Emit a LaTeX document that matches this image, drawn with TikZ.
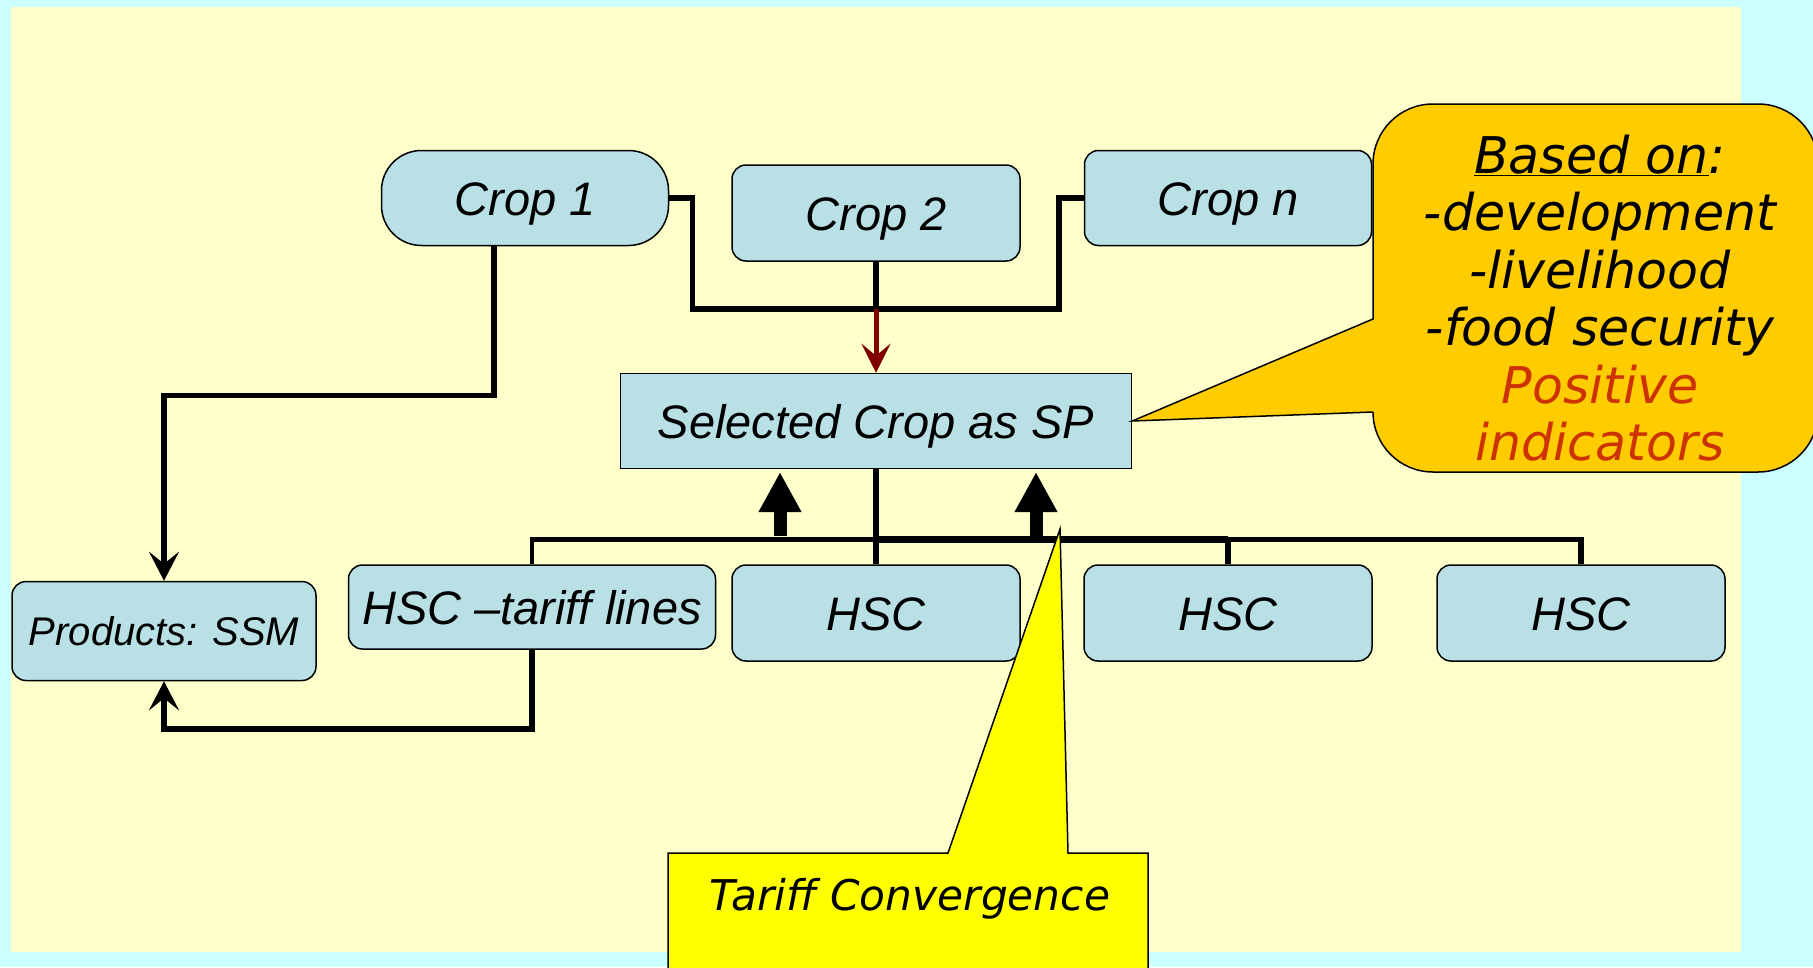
\documentclass[tikz,border=0pt]{standalone}
\usepackage{fontspec}
\setmainfont{Liberation Sans}
\newfontfamily\verdfont{DejaVu Sans}[ItalicFont={DejaVu Sans Oblique}]
\usetikzlibrary{arrows.meta}
\definecolor{bgcyan}{HTML}{CCFFFF}
\definecolor{panel}{HTML}{FFFFCC}
\definecolor{boxblue}{RGB}{185,224,228}
\definecolor{calorange}{HTML}{FFCC00}
\definecolor{calyellow}{HTML}{FFFF00}
\definecolor{arrowred}{HTML}{800000}
\definecolor{posred}{HTML}{CC3300}
\begin{document}
\begin{tikzpicture}[x=1pt, y=-1pt,
                box/.style={draw, line width=1.5pt, fill=boxblue, inner sep=0pt,
                    minimum width=288pt, minimum height=96pt,
                    font=\fontsize{47}{56}\selectfont\itshape, text height=34pt, text depth=0pt},
                roundbox/.style={box, rounded corners=14pt},
                wire/.style={black, line width=5.5pt},
                barb/.style={-{Stealth[length=29pt, width=30pt, inset=12pt]}},
                redarrow/.style={arrowred, line width=5pt, -{Stealth[length=29pt, width=29pt, inset=12pt]}},
                liftarrow/.style={black, line width=13pt, -{Triangle[length=40pt, width=40pt]}},
                callout/.style={draw, line width=1.5pt, line join=miter}]
                \useasboundingbox (0,0) rectangle (1813,967);
                \clip (0,0) rectangle (1813,967);
                \fill[bgcyan] (0,0) rectangle (1813,967);
                \fill[panel] (11,7) rectangle (1741,952);

                \node[roundbox, rounded corners=40pt, minimum width=287pt, minimum height=95pt] (crop1) at (525,198) {Crop 1};
                \node[roundbox] (crop2) at (876,213) {Crop 2};
                \node[roundbox, minimum width=287pt, minimum height=95pt] (cropn) at (1228,198) {Crop n};
                \node[box, minimum width=511pt, minimum height=95pt] (sel) at (876,421) {Selected Crop as SP};
                \node[roundbox, minimum width=304pt, minimum height=99pt,
                    font=\fontsize{40}{48}\selectfont\itshape, text height=29pt] (prod) at (164,631) {Products: SSM};
                \node[roundbox, minimum width=367pt, minimum height=84pt] (tariff) at (532,607) {HSC –tariff lines};
                \node[roundbox] (hsc1) at (876,613) {HSC};
                \node[roundbox] (hsc2) at (1228,613) {HSC};
                \node[roundbox] (hsc3) at (1581,613) {HSC};

                \coordinate (join) at (876,309);
                \draw[wire] (crop1.east) -- ++(23,0) |- (join) -| ([xshift=-25pt]cropn.west) -- (cropn.west);
                \draw[wire] (crop2.south) -- (join);
                \draw[redarrow] (join) -- (sel.north);
                \draw[wire, barb] ([xshift=-31pt]crop1.south) -- ++(0,149) -| (prod.north);
                \draw[wire, barb] (tariff.south) -- ++(0,79) -| (prod.south);

                \coordinate (bus) at ([yshift=25pt]hsc1.north);
                \draw[wire] (sel.south) -- (hsc1.north);
                \draw[wire, line width=4.5pt] (tariff.north) |- (bus);
                \draw[wire, line width=7pt] (bus) -- (bus -| hsc2.north);
                \draw[wire] (hsc2.north) |- (bus -| hsc2.north) -| (hsc3.north);
                \coordinate (lift1) at (780,536);
                \coordinate (lift2) at (1036,536);
                \draw[liftarrow] (lift1) -- ++(0,-64);
                \draw[liftarrow] (lift2) -- ++(0,-64);

                \draw[callout, fill=calorange, rounded corners=60pt] (1373,104) rectangle (1818,472);
                \fill[calorange] (1375,319) -- (sel.east) -- (1375,412) -- cycle;
                \draw[callout] (1373,319) -- (sel.east) -- (1373,412);
                \node[font=\verdfont\itshape\fontsize{50.6}{57.5}\selectfont, align=center] (basis) at (1600,298)
                    {\underline{Based on}:\\-development\\-livelihood\\-food security\\\textcolor{posred}{Positive}\\\textcolor{posred}{indicators}};

                \coordinate (tip) at (1060,529);
                \draw[callout, fill=calyellow] (668,980) -- (668,853) -- (948,853) -- (tip) -- (1068,853) -- (1148,853) -- (1148,980);
                \node[font=\verdfont\itshape\fontsize{42.3}{50}\selectfont, anchor=base] (conv) at (910,910) {Tariff Convergence};
            \end{tikzpicture}
\end{document}
